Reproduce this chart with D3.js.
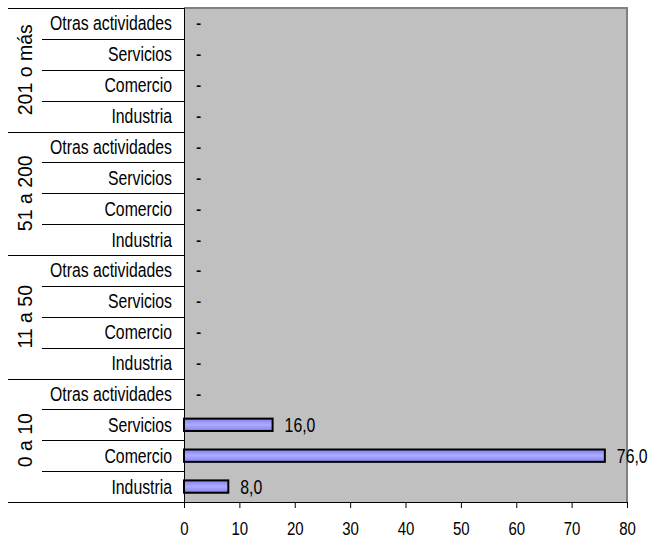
<!DOCTYPE html>
<html>
<head>
<meta charset="utf-8">
<script src="https://cdn.jsdelivr.net/npm/d3@7"></script>
<style>
  body { margin: 0; background: #fff; overflow: hidden; }
  text { font-family: "Liberation Sans", Arial, sans-serif; font-size: 19.5px; fill: #000; }
</style>
</head>
<body>
<svg id="drawing_region"></svg>
<script>
// tramos de personal ocupado (de abajo hacia arriba)
const groups = ["0 a 10", "11 a 50", "51 a 200", "201 o más"];
// sectores dentro de cada tramo (de abajo hacia arriba)
const sectors = ["Industria", "Comercio", "Servicios", "Otras actividades"];
// valores por tramo, en el orden de sectors
const values = [
  [8, 76, 16, 0],
  [0, 0, 0, 0],
  [0, 0, 0, 0],
  [0, 0, 0, 0]
];
const xticks = [0, 10, 20, 30, 40, 50, 60, 70, 80];

const config = {
  width: 649,
  height: 540,
  left: 184, right: 627, top: 8, bottom: 502,
  sx: 0.81
};

let data = [];
groups.forEach((g, gi) => {
  sectors.forEach((s, si) => {
    data.push({ key: g + "|" + s, group: g, sector: s, value: values[gi][si] });
  });
});

const svg = d3.select('#drawing_region')
    .attr('width', config.width)
    .attr('height', config.height);

const xscale = d3.scaleLinear()
    .domain([0, 80])
    .range([config.left, config.right]);

// de arriba hacia abajo: el último tramo arriba
const yscale = d3.scaleBand()
    .domain(data.map(d => d.key).reverse())
    .range([config.top, config.bottom])
    .paddingInner(0.6)
    .paddingOuter(0.3);

const step = yscale.step();
const bandTop = k => yscale(k) - yscale.paddingOuter() * step;

// gradiente de barras
const grad = svg.append('defs').append('linearGradient')
    .attr('id', 'bar_grad')
    .attr('x1', 0).attr('y1', 0).attr('x2', 0).attr('y2', 1);
grad.append('stop').attr('offset', '0%').attr('stop-color', '#8080f0');
grad.append('stop').attr('offset', '50%').attr('stop-color', '#adadff');
grad.append('stop').attr('offset', '100%').attr('stop-color', '#8080f0');

// área del gráfico
svg.append('rect')
    .attr('x', config.left)
    .attr('y', config.top)
    .attr('width', config.right - config.left)
    .attr('height', config.bottom - config.top)
    .attr('fill', '#c0c0c0');

svg.append('path')
    .attr('d', `M${config.left},${config.top}H${config.right}V${config.bottom}`)
    .attr('fill', 'none')
    .attr('stroke', '#808080')
    .attr('stroke-width', 2);

// separadores de sectores
data.forEach((d, i) => {
  const y = Math.round(bandTop(d.key) + step) + 0.5;
  const isGroup = (i % 4 === 0);
  svg.append('line')
      .attr('x1', isGroup ? 8 : 42)
      .attr('x2', config.left)
      .attr('y1', y).attr('y2', y)
      .attr('stroke', '#000')
      .attr('stroke-width', 1);
});
svg.append('line')
    .attr('x1', 8).attr('x2', config.left)
    .attr('y1', config.top + 0.5).attr('y2', config.top + 0.5)
    .attr('stroke', '#000');

// barras
svg.selectAll('.bar')
    .data(data.filter(d => d.value > 0))
    .join('rect')
    .attr('class', 'bar')
    .attr('x', xscale(0))
    .attr('y', d => yscale(d.key))
    .attr('width', d => xscale(d.value) - xscale(0))
    .attr('height', yscale.bandwidth())
    .attr('fill', 'url(#bar_grad)')
    .attr('stroke', '#000')
    .attr('stroke-width', 2);

// etiquetas de valores
svg.selectAll('.vlabel')
    .data(data)
    .join('text')
    .attr('class', 'vlabel')
    .attr('transform', d => `translate(${xscale(d.value) + 12}, ${yscale(d.key) + yscale.bandwidth() / 2}) scale(${config.sx},1)`)
    .attr('dy', '0.36em')
    .text(d => d.value > 0 ? d3.format('.1f')(d.value).replace('.', ',') : '-');

// etiquetas de sectores
svg.selectAll('.clabel')
    .data(data)
    .join('text')
    .attr('class', 'clabel')
    .attr('transform', d => `translate(172, ${yscale(d.key) + yscale.bandwidth() / 2}) scale(${config.sx},1)`)
    .attr('dy', '0.36em')
    .attr('text-anchor', 'end')
    .text(d => d.sector);

// etiquetas de tramos (rotadas)
groups.forEach(g => {
  const y0 = bandTop(g + "|" + sectors[sectors.length - 1]);
  const y1 = bandTop(g + "|" + sectors[0]) + step;
  svg.append('text')
      .attr('transform', `translate(32, ${(y0 + y1) / 2}) rotate(-90)`)
      .attr('text-anchor', 'middle')
      .text(g);
});

// eje x
const xaxis = d3.axisBottom(xscale)
    .tickValues(xticks)
    .tickSize(6)
    .tickPadding(14)
    .tickSizeOuter(0);

const xaxis_group = svg.append('g')
    .attr('transform', `translate(0, ${config.bottom})`)
    .call(xaxis);
xaxis_group.select('.domain').remove();
xaxis_group.selectAll('line').attr('stroke', '#000');
xaxis_group.selectAll('text')
    .attr('font-size', null)
    .attr('font-family', null)
    .style('font-size', '18.5px')
    .attr('transform', `scale(${config.sx},1)`);

svg.append('line')
    .attr('x1', 8).attr('x2', config.right)
    .attr('y1', config.bottom + 0.5).attr('y2', config.bottom + 0.5)
    .attr('stroke', '#000');

// eje vertical
svg.append('line')
    .attr('x1', config.left + 0.5).attr('x2', config.left + 0.5)
    .attr('y1', config.top).attr('y2', config.bottom)
    .attr('stroke', '#000');
</script>
</body>
</html>
